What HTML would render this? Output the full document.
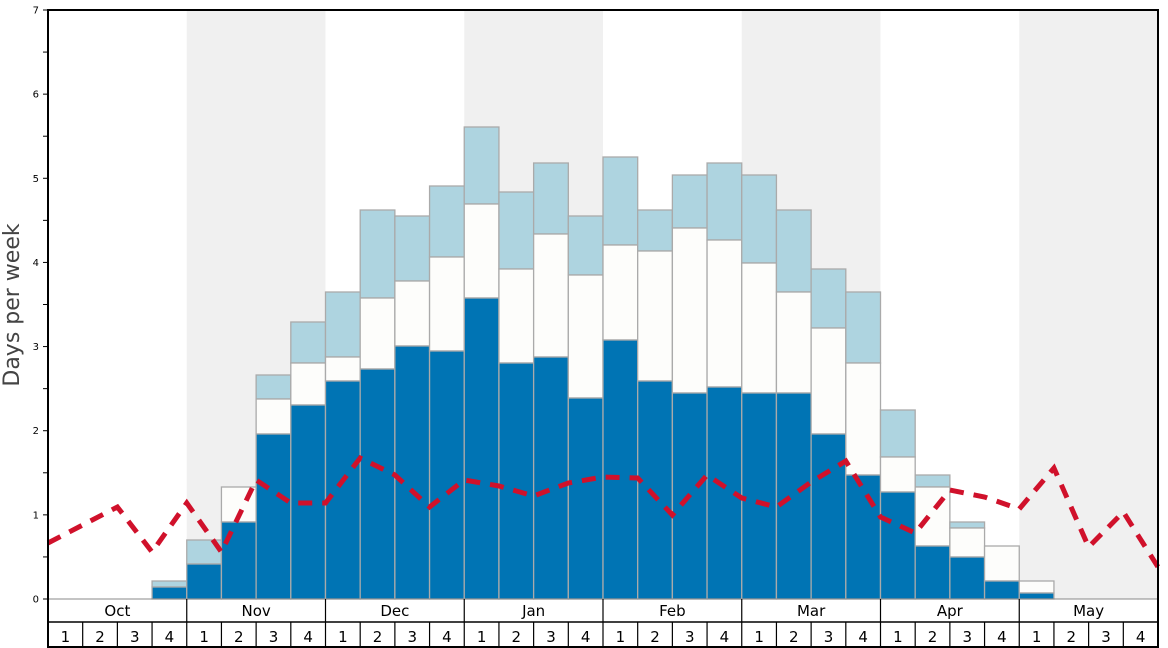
<!DOCTYPE html>
<html><head><meta charset="utf-8">
<style>
html,body{margin:0;padding:0;background:#fff;}
svg{display:block;font-family:"DejaVu Sans","Liberation Sans",sans-serif;}
</style></head>
<body>
<svg id="c" width="1168" height="648" xmlns="http://www.w3.org/2000/svg"></svg>
<script>
const L=48,R=1158,T=10,B=599,W=(R-L)/32,U=(B-T)/7;
const bars=[null,null,null,[587,587,581],[564,564,540],[522,487,487],[434,399,375],[405,363,322],[381,357,292],[369,298,210],[346,281,216],[351,257,186],[298,204,127],[363,269,192],[357,234,163],[398,275,216],[340,245,157],[381,251,210],[393,228,175],[387,240,163],[393,263,175],[393,292,210],[434,328,269],[475,363,292],[492,457,410],[546,487,475],[557,528,522],[581,546,546],[593,581,581],null,null,null];
const red=[543,525,507,552,503,552,480,503,503,458,475,507,480,486,496,483,477,478,515,475,498,507,482,461,517,533,490,497,509,468,547,512,567];
let s='';
for(const m of [1,3,5,7]) s+=`<rect x="${L+m*4*W}" y="${T}" width="${4*W}" height="${B-T}" fill="#f0f0f0"/>`;
bars.forEach((b,i)=>{if(!b)return;const x=L+i*W;
 const[d,w,l]=b;
 if(l<w) s+=`<rect x="${x}" y="${l}" width="${W}" height="${w-l}" fill="#aed4e0" stroke="#aaa" stroke-width="1.3"/>`;
 if(w<d) s+=`<rect x="${x}" y="${w}" width="${W}" height="${d-w}" fill="#fdfdfb" stroke="#aaa" stroke-width="1.3"/>`;
 s+=`<rect x="${x}" y="${d}" width="${W}" height="${B-d}" fill="#0074b4" stroke="#aaa" stroke-width="1.3"/>`;
});
s+=`<polyline fill="none" stroke="#d0112b" stroke-width="5" stroke-dasharray="14 10" points="${red.map((y,i)=>(L+i*W)+','+y).join(' ')}"/>`;
s+=`<line x1="${L}" y1="${B}" x2="${R}" y2="${B}" stroke="#888" stroke-width="1"/>`;
for(let v=0;v<=7;v+=0.5){const y=B-v*U;
 s+=`<line x1="${L-5}" y1="${y}" x2="${L}" y2="${y}" stroke="#000" stroke-width="1"/>`;
 if(v%1===0) s+=`<text x="${L-9}" y="${y+3.5}" font-size="10" text-anchor="end" fill="#000">${v}</text>`;
}
s+=`<line x1="${L}" y1="622" x2="${R}" y2="622" stroke="#000" stroke-width="1.5"/>`;
s+=`<line x1="${L}" y1="647" x2="${R}" y2="647" stroke="#000" stroke-width="1.5"/>`;
const months=['Oct','Nov','Dec','Jan','Feb','Mar','Apr','May'];
months.forEach((m,i)=>{const x=L+i*4*W;
 s+=`<line x1="${x}" y1="${B}" x2="${x}" y2="647" stroke="#000" stroke-width="1.2"/>`;
 s+=`<text x="${x+2*W}" y="616" font-size="15" text-anchor="middle" fill="#000">${m}</text>`;
 for(let k=0;k<4;k++){const xx=x+k*W;
  if(k) s+=`<line x1="${xx}" y1="622" x2="${xx}" y2="647" stroke="#000" stroke-width="1.2"/>`;
  s+=`<text x="${xx+W/2}" y="642" font-size="15" text-anchor="middle" fill="#000">${k+1}</text>`;}
});
s+=`<rect x="${L}" y="${T}" width="${R-L}" height="637" fill="none" stroke="#000" stroke-width="2"/>`;
s+=`<text transform="translate(19,305) rotate(-90)" font-size="22" text-anchor="middle" fill="#444">Days per week</text>`;
document.getElementById('c').innerHTML=s;
</script>
</body></html>
